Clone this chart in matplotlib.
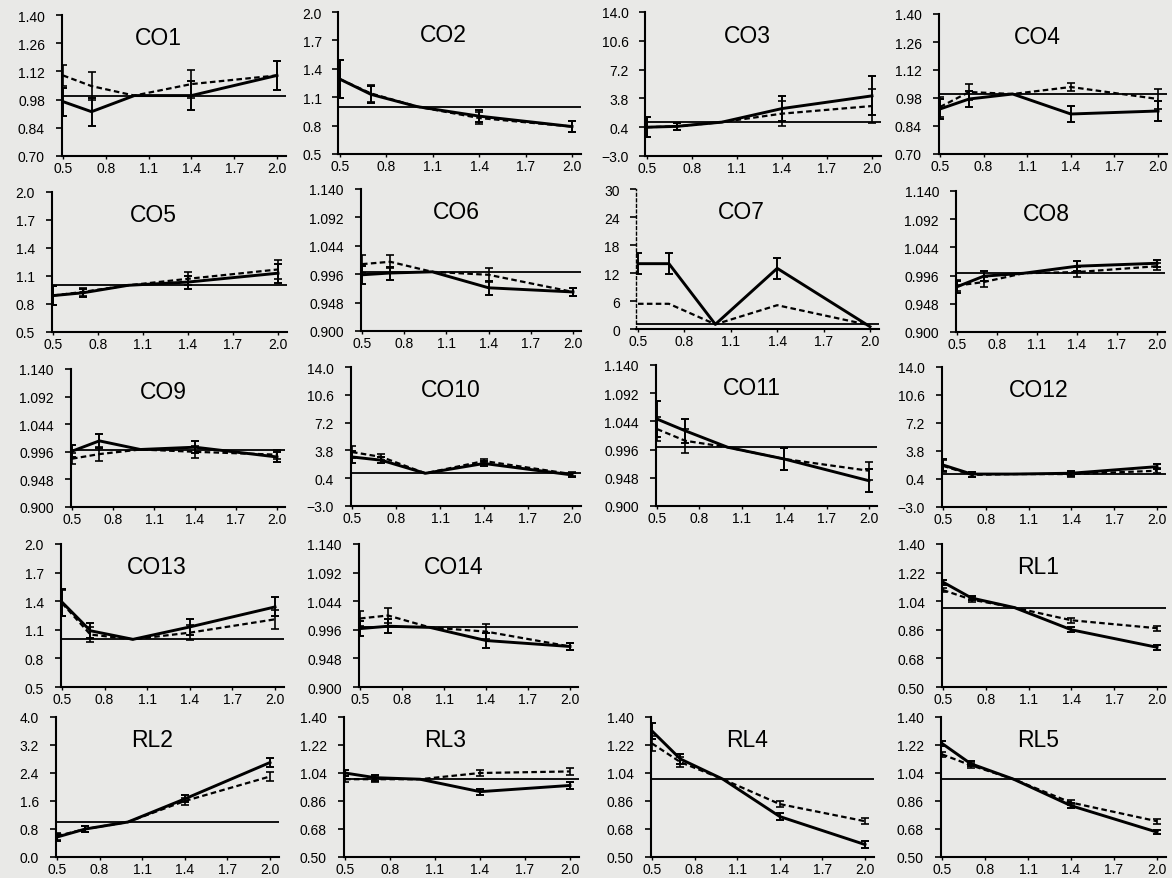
import numpy as np
import matplotlib
matplotlib.use("Agg")
import matplotlib.pyplot as plt
import matplotlib.transforms as mtransforms

plt.rcParams['font.family'] = ['Liberation Sans', 'DejaVu Sans']

# ---------------- data ----------------
x_points = [0.5, 0.7, 1.0, 1.4, 2.0]
x_ticks = [0.5, 0.8, 1.1, 1.4, 1.7, 2.0]

panel_names = ["CO1", "CO2", "CO3", "CO4",
               "CO5", "CO6", "CO7", "CO8",
               "CO9", "CO10", "CO11", "CO12",
               "CO13", "CO14", None, "RL1",
               "RL2", "RL3", "RL4", "RL5"]

y_min = [0.70, 0.5, -3.0, 0.70,
         0.5, 0.900, 0, 0.900,
         0.900, -3.0, 0.900, -3.0,
         0.5, 0.900, None, 0.50,
         0.0, 0.50, 0.50, 0.50]
y_max = [1.40, 2.0, 14.0, 1.40,
         2.0, 1.140, 30, 1.140,
         1.140, 14.0, 1.140, 14.0,
         2.0, 1.140, None, 1.40,
         4.0, 1.40, 1.40, 1.40]
y_decimals = [2, 1, 1, 2,
              1, 3, 0, 3,
              3, 1, 3, 1,
              1, 3, None, 2,
              1, 2, 2, 2]

solid_values = [
    [0.97, 0.92, 1.0, 1.00, 1.10],     # CO1
    [1.29, 1.13, 1.0, 0.90, 0.79],     # CO2
    [0.4, 0.5, 1.0, 2.6, 4.1],         # CO3
    [0.925, 0.975, 1.0, 0.90, 0.915],  # CO4
    [0.89, 0.92, 1.0, 1.035, 1.13],    # CO5
    [0.995, 0.998, 1.0, 0.973, 0.966], # CO6
    [14.0, 14.0, 1.0, 13.0, 0.5],      # CO7
    [0.977, 0.995, 1.0, 1.012, 1.017], # CO8
    [0.997, 1.015, 1.0, 1.004, 0.987], # CO9
    [3.0, 2.6, 1.0, 2.2, 0.8],         # CO10
    [1.048, 1.028, 1.0, 0.980, 0.943], # CO11
    [2.1, 1.0, 1.0, 1.1, 1.9],         # CO12
    [1.39, 1.09, 1.0, 1.13, 1.34],     # CO13
    [0.998, 1.002, 1.0, 0.978, 0.968], # CO14
    None,
    [1.16, 1.06, 1.0, 0.86, 0.75],     # RL1
    [0.57, 0.8, 1.0, 1.66, 2.7],       # RL2
    [1.04, 1.01, 1.0, 0.92, 0.96],     # RL3
    [1.31, 1.13, 1.0, 0.76, 0.58],     # RL4
    [1.23, 1.10, 1.0, 0.83, 0.66],     # RL5
]

dashed_values = [
    [1.10, 1.047, 1.0, 1.057, 1.10],   # CO1
    [1.29, 1.14, 1.0, 0.88, 0.79],     # CO2
    [0.4, 0.5, 1.0, 2.0, 2.9],         # CO3
    [0.935, 1.01, 1.0, 1.035, 0.975],  # CO4
    [0.89, 0.93, 1.0, 1.07, 1.17],     # CO5
    [1.013, 1.017, 1.0, 0.995, 0.966], # CO6
    [5.4, 5.4, 1.0, 5.1, 0.8],         # CO7
    [0.979, 0.985, 1.0, 1.002, 1.012], # CO8
    [0.984, 0.992, 1.0, 0.996, 0.991], # CO9
    [3.6, 3.0, 1.0, 2.5, 0.9],         # CO10
    [1.031, 1.011, 1.0, 0.980, 0.960], # CO11
    [2.0, 0.9, 1.0, 1.0, 1.4],         # CO12
    [1.38, 1.05, 1.0, 1.07, 1.21],     # CO13
    [1.015, 1.02, 1.0, 0.993, 0.968],  # CO14
    None,
    [1.11, 1.05, 1.0, 0.92, 0.87],     # RL1
    [0.6, 0.8, 1.0, 1.6, 2.3],         # RL2
    [1.0, 1.0, 1.0, 1.04, 1.05],       # RL3
    [1.23, 1.11, 1.0, 0.84, 0.73],     # RL4
    [1.16, 1.09, 1.0, 0.85, 0.73],     # RL5
]

solid_err = [
    [0.07, 0.07, 0, 0.07, 0.07],
    [0.2, 0.09, 0, 0.06, 0.06],
    [1.2, 0.4, 0, 1.5, 2.3],
    [0.05, 0.04, 0, 0.04, 0.05],
    [0.1, 0.04, 0, 0.07, 0.1],
    [0.015, 0.011, 0, 0.012, 0.006],
    [2.3, 2.3, 0, 2.3, 0],
    [0.01, 0.008, 0, 0.008, 0.006],
    [0.01, 0.012, 0, 0.01, 0.008],
    [0.7, 0.4, 0, 0.3, 0.2],
    [0.03, 0.02, 0, 0.018, 0.02],
    [0.7, 0.3, 0, 0.3, 0.3],
    [0.14, 0.08, 0, 0.08, 0.1],
    [0.012, 0.012, 0, 0.012, 0.006],
    None,
    [0.015, 0.015, 0, 0.015, 0.015],
    [0.1, 0.08, 0, 0.1, 0.12],
    [0.02, 0.02, 0, 0.02, 0.02],
    [0.05, 0.03, 0, 0.02, 0.02],
    [0.015, 0.015, 0, 0.015, 0.015],
]

dashed_err = [
    [0.05, 0.07, 0, 0.07, 0.07],
    [0.2, 0.09, 0, 0.06, 0.06],
    [1.2, 0.4, 0, 1.5, 2.0],
    [0.05, 0.04, 0, 0.02, 0.05],
    [0.1, 0.04, 0, 0.07, 0.1],
    [0.015, 0.011, 0, 0.012, 0.006],
    [0, 0, 0, 0, 0],
    [0.01, 0.008, 0, 0.008, 0.006],
    [0.01, 0.012, 0, 0.01, 0.008],
    [0.7, 0.4, 0, 0.3, 0.2],
    [0.02, 0.02, 0, 0.018, 0.015],
    [0.7, 0.3, 0, 0.3, 0.3],
    [0.14, 0.08, 0, 0.08, 0.1],
    [0.012, 0.012, 0, 0.012, 0.006],
    None,
    [0.015, 0.015, 0, 0.015, 0.015],
    [0.1, 0.08, 0, 0.1, 0.12],
    [0.02, 0.02, 0, 0.02, 0.02],
    [0.05, 0.03, 0, 0.02, 0.02],
    [0.015, 0.015, 0, 0.015, 0.015],
]

reference_level = 1.0

# ---------------- layout (pixel boxes: x of 0.5, x of 2.0, y top, y bottom) ----------------
W, H = 1172, 879
boxes = [
    (63, 277, 16, 157), (340, 572, 13, 155), (647, 872, 13, 157), (940, 1158, 15, 155),
    (53, 278, 193, 333), (362, 573, 190, 332), (638, 870, 190, 330), (957, 1157, 192, 333),
    (72, 277, 370, 508), (352, 572, 368, 507), (657, 869, 366, 507), (943, 1157, 368, 508),
    (62, 275, 545, 688), (360, 570, 545, 688), None, (943, 1157, 545, 688),
    (57, 270, 718, 858), (345, 570, 718, 858), (652, 865, 718, 858), (942, 1157, 718, 858),
]

bg = '#e9e9e7'
fig = plt.figure(figsize=(W / 100, H / 100), dpi=100, facecolor=bg)

XMIN, XMAX = 0.49, 2.06

for i, name in enumerate(panel_names):
    if name is None:
        continue
    p05, p20, ptop, pbot = boxes[i]
    ppu = (p20 - p05) / 1.5
    left = p05 - (0.5 - XMIN) * ppu
    right = p20 + (XMAX - 2.0) * ppu
    ax = fig.add_axes([left / W, 1 - pbot / H, (right - left) / W, (pbot - ptop) / H])
    ax.set_facecolor('none')
    ax.set_xlim(XMIN, XMAX)
    ax.set_ylim(y_min[i], y_max[i])

    for s in ['top', 'right']:
        ax.spines[s].set_visible(False)
    for s in ['left', 'bottom']:
        ax.spines[s].set_linewidth(1.5)
        ax.spines[s].set_color('black')
    if name == "CO7":
        ax.spines['left'].set_linestyle((0, (2, 2)))
        ax.spines['left'].set_linewidth(1.0)

    yt = np.linspace(y_min[i], y_max[i], 6)
    ax.set_yticks(yt)
    d = y_decimals[i]
    ax.set_yticklabels([f"{v:.{d}f}".replace('-', '\u2212') for v in yt])
    ax.set_xticks(x_ticks)
    ax.set_xticklabels([f"{v:.1f}" for v in x_ticks])
    ax.tick_params(axis='y', direction='out', length=4, width=1.2, pad=8, labelsize=10)
    ax.tick_params(axis='x', direction='out', length=2, width=1.0, pad=1.5, labelsize=10)

    ax.axhline(reference_level, color='black', lw=1.3, zorder=2)

    xs = np.array(x_points)
    sv = np.array(solid_values[i])
    dv = np.array(dashed_values[i])
    se = np.array(solid_err[i])
    de = np.array(dashed_err[i])

    ax.plot(xs, dv, color='black', lw=1.6, ls=(0, (2.5, 1.5)), zorder=3)
    ax.plot(xs, sv, color='black', lw=2.1, zorder=4)
    m = de > 0
    if m.any():
        ax.errorbar(xs[m], dv[m], yerr=de[m], fmt='none', ecolor='black',
                    elinewidth=1.2, capsize=3, capthick=1.2, zorder=3)
    m = se > 0
    if m.any():
        ax.errorbar(xs[m], sv[m], yerr=se[m], fmt='none', ecolor='black',
                    elinewidth=1.4, capsize=3, capthick=1.4, zorder=4)

    trans = mtransforms.blended_transform_factory(ax.transData, ax.transAxes)
    ax.text(1.17, 0.84, name, transform=trans, ha='center', va='center',
            fontsize=16.5, color='black')

fig.savefig('out.png', dpi=100, facecolor=bg)
